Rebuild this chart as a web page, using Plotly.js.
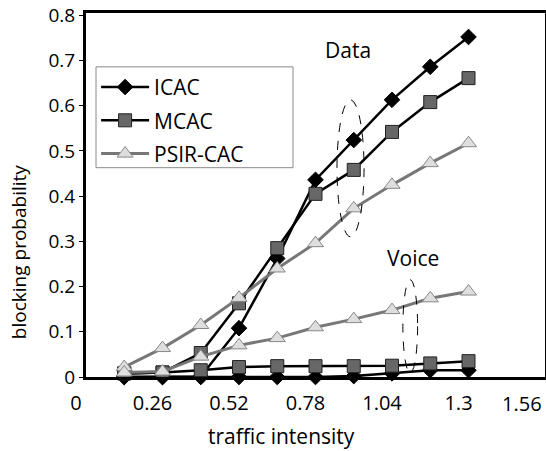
<!DOCTYPE html>
<html>
<head>
<meta charset="utf-8">
<script src="https://cdn.plot.ly/plotly-3.0.1.min.js"></script>
<style>html,body{margin:0;padding:0;background:#fff}#chart{width:546px;height:451px}</style>
</head>
<body>
<div id="chart"></div>
<script>
const traffic = [0.13, 0.26, 0.39, 0.52, 0.65, 0.78, 0.91, 1.04, 1.17, 1.30];

const icacData  = [0.000, 0.000, 0.001, 0.108, 0.262, 0.436, 0.524, 0.613, 0.686, 0.752];
const mcacData  = [0.008, 0.010, 0.053, 0.163, 0.285, 0.405, 0.458, 0.542, 0.608, 0.661];
const psirData  = [0.022, 0.064, 0.115, 0.175, 0.240, 0.296, 0.373, 0.425, 0.473, 0.517];

const icacVoice = [0.000, 0.000, 0.000, 0.000, 0.000, 0.000, 0.002, 0.008, 0.015, 0.015];
const mcacVoice = [0.008, 0.010, 0.015, 0.022, 0.024, 0.024, 0.024, 0.025, 0.030, 0.035];
const psirVoice = [0.010, 0.012, 0.045, 0.070, 0.086, 0.110, 0.128, 0.148, 0.174, 0.189];

const seriesNames = ['ICAC', 'MCAC', 'PSIR-CAC'];
const xTicks = [0, 0.26, 0.52, 0.78, 1.04, 1.3, 1.56];
const yTicks = [0, 0.1, 0.2, 0.3, 0.4, 0.5, 0.6, 0.7, 0.8];
const xTitle = 'traffic intensity';
const yTitle = 'blocking probability';

const FONT = '"Open Sans", "Noto Sans", sans-serif';

const icacStyle = {
  mode: 'lines+markers', cliponaxis: false, legendgroup: 'g1',
  line: {color: '#000', width: 2.5},
  marker: {symbol: 'diamond', size: 12, color: '#000', line: {color: '#000', width: 1}}
};
const mcacStyle = {
  mode: 'lines+markers', cliponaxis: false, legendgroup: 'g2',
  line: {color: '#000', width: 2.5},
  marker: {symbol: 'square', size: 13, color: '#676767', line: {color: '#222', width: 1}}
};
const psirStyle = {
  mode: 'lines+markers', cliponaxis: false, legendgroup: 'g3',
  line: {color: '#777', width: 3},
  marker: {symbol: 'triangle-up', size: 14, color: '#dedede', line: {color: '#888', width: 1}}
};

const traces = [
  Object.assign({x: traffic, y: icacData, name: seriesNames[0]}, icacStyle),
  Object.assign({x: traffic, y: icacVoice, name: seriesNames[0], showlegend: false}, icacStyle),
  Object.assign({x: traffic, y: mcacData, name: seriesNames[1]}, mcacStyle),
  Object.assign({x: traffic, y: mcacVoice, name: seriesNames[1], showlegend: false}, mcacStyle),
  Object.assign({x: traffic, y: psirData, name: seriesNames[2]}, psirStyle),
  Object.assign({x: traffic, y: psirVoice, name: seriesNames[2], showlegend: false}, psirStyle)
];

const lastX = xTicks[xTicks.length - 1];
const FONT_TICK_X = {family: FONT, size: 20, color: '#000'};

const layout = {
  width: 546, height: 451,
  margin: {l: 86, r: 1, t: 13, b: 74},
  paper_bgcolor: '#fff', plot_bgcolor: '#fff',
  font: {family: FONT, size: 18, color: '#000'},
  showlegend: true,
  legend: {
    x: 0.022, y: 0.852, xanchor: 'left', yanchor: 'top',
    borderwidth: 0, bgcolor: 'rgba(0,0,0,0)',
    font: {family: FONT, size: 21, color: '#000'},
    traceorder: 'grouped', tracegroupgap: 3, itemwidth: 48
  },
  xaxis: {
    range: [0, 1.56], tickvals: xTicks.slice(0, -1), ticktext: xTicks.slice(0, -1).map(String),
    showgrid: false, zeroline: false,
    showline: true, linecolor: '#000', linewidth: 3, mirror: true,
    ticks: '', ticklabelstandoff: 6, ticklabelshift: -10,
    tickfont: FONT_TICK_X,
    automargin: false
  },
  yaxis: {
    range: [0, 0.805], tickvals: yTicks, ticktext: yTicks.map(v => String(v)),
    showgrid: false, zeroline: false,
    showline: true, linecolor: '#000', linewidth: 3, mirror: true,
    ticks: 'outside', ticklen: 4, tickcolor: '#000', tickwidth: 1,
    tickfont: {family: FONT, size: 19},
    automargin: false
  },
  shapes: [
    {type: 'rect', xref: 'paper', yref: 'paper', x0: 0.0218, x1: 0.451, y0: 0.575, y1: 0.852,
     layer: 'above', fillcolor: '#fff', line: {color: '#888', width: 1}},
    {type: 'circle', xref: 'x', yref: 'y', x0: 0.853, x1: 0.945, y0: 0.31, y1: 0.613,
     line: {color: '#000', width: 1, dash: 'dash'}},
    {type: 'circle', xref: 'x', yref: 'y', x0: 1.077, x1: 1.127, y0: 0.009, y1: 0.215,
     line: {color: '#000', width: 1, dash: 'dash'}}
  ],
  annotations: [
    {x: 0.89, y: 0.723, xref: 'x', yref: 'y', text: 'Data', showarrow: false,
     font: {family: FONT, size: 21, color: '#000'}},
    {x: 1.11, y: 0.263, xref: 'x', yref: 'y', text: 'Voice', showarrow: false,
     font: {family: FONT, size: 21, color: '#000'}},
    {x: lastX, y: -0.073, xref: 'x', yref: 'paper', text: String(lastX), showarrow: false,
     xanchor: 'right', yanchor: 'middle', xshift: -1, font: FONT_TICK_X},
    {x: 0.427, y: -0.163, xref: 'paper', yref: 'paper', text: xTitle, showarrow: false,
     xanchor: 'center', yanchor: 'middle', font: {family: FONT, size: 21, color: '#000'}},
    {x: -0.146, y: 0.343, xref: 'paper', yref: 'paper', text: yTitle, showarrow: false,
     textangle: -90, xanchor: 'center', yanchor: 'middle', font: {family: FONT, size: 19, color: '#000'}}
  ]
};

Plotly.newPlot('chart', traces, layout, {displayModeBar: false, staticPlot: true});
</script>
</body>
</html>
